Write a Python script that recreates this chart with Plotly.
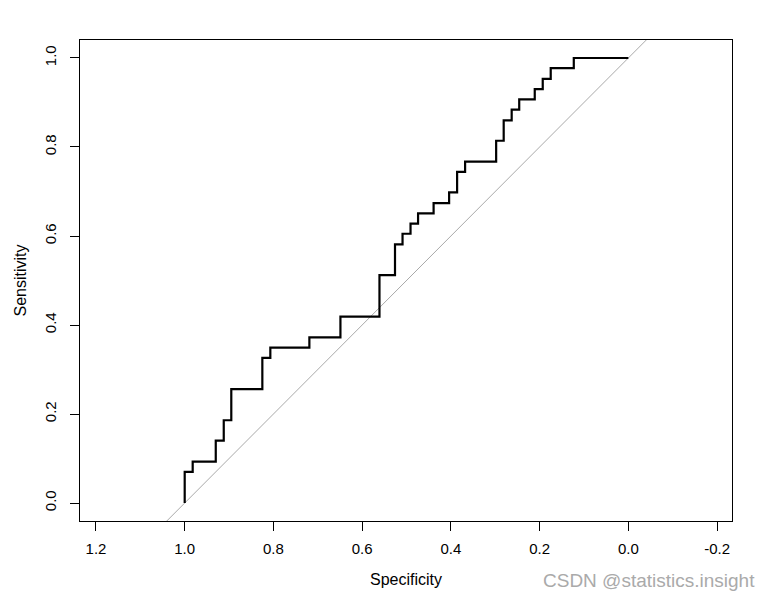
import plotly.graph_objects as go

# ROC curve corner points (specificity, sensitivity)
specificity = [1.0, 0.982, 0.930, 0.912, 0.895, 0.825, 0.807, 0.719, 0.649,
               0.561, 0.526, 0.509, 0.491, 0.474, 0.439, 0.404, 0.386, 0.368,
               0.298, 0.281, 0.263, 0.246, 0.211, 0.193, 0.175, 0.123, 0.0]
sensitivity = [0.0, 0.070, 0.093, 0.140, 0.186, 0.256, 0.326, 0.349, 0.372,
               0.419, 0.512, 0.581, 0.605, 0.628, 0.651, 0.674, 0.698, 0.744,
               0.767, 0.814, 0.860, 0.884, 0.907, 0.930, 0.953, 0.977, 1.0]

# identity (chance) line endpoints
diag_spec = [1.5, -0.5]
diag_sens = [-0.5, 1.5]

x_ticks = [1.2, 1.0, 0.8, 0.6, 0.4, 0.2, 0.0, -0.2]
x_tick_labels = ["1.2", "1.0", "0.8", "0.6", "0.4", "0.2", "0.0", "-0.2"]
y_ticks = [0.0, 0.2, 0.4, 0.6, 0.8, 1.0]
y_tick_labels = ["0.0", "0.2", "0.4", "0.6", "0.8", "1.0"]

FONT = "Liberation Sans, Arial, sans-serif"

fig = go.Figure()
fig.add_trace(go.Scatter(x=diag_spec, y=diag_sens, mode="lines",
                         line=dict(color="#a9a9a9", width=1),
                         hoverinfo="skip", showlegend=False))
fig.add_trace(go.Scatter(x=specificity, y=sensitivity, mode="lines",
                         line=dict(color="black", width=2.2, shape="vh"),
                         showlegend=False))

fig.update_layout(
    width=773, height=600,
    margin=dict(l=70, r=49, t=32, b=87),
    paper_bgcolor="white", plot_bgcolor="white",
    font=dict(family=FONT, size=15, color="black"),
    xaxis=dict(range=[1.236, -0.2336], tickvals=x_ticks, ticktext=x_tick_labels,
               showgrid=False, zeroline=False, showline=True, mirror=True,
               linecolor="black", linewidth=1, ticks="outside", ticklen=9,
               tickcolor="black", tickfont=dict(size=15),
               ticklabelstandoff=5,
               title=dict(text="Specificity", font=dict(size=16), standoff=17)),
    yaxis=dict(range=[-0.0404, 1.0404], tickvals=y_ticks, ticktext=y_tick_labels,
               showgrid=False, zeroline=False, showline=True, mirror=True,
               linecolor="black", linewidth=1, ticks="outside", ticklen=9,
               tickcolor="black", tickangle=-90, tickfont=dict(size=15),
               ticklabelstandoff=8,
               title=dict(text="Sensitivity", font=dict(size=16), standoff=11)),
    annotations=[dict(text="CSDN @statistics.insight", xref="paper", yref="paper",
                      x=1.038, y=-0.1227, xanchor="right", yanchor="middle",
                      showarrow=False,
                      font=dict(family=FONT, size=19, color="#aaaaaa"))],
)

fig.write_html("out.html")
